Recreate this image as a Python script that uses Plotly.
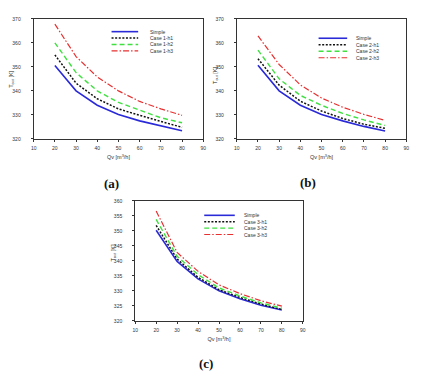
import plotly.graph_objects as go

qv = [20, 30, 40, 50, 60, 70, 80]

# Panel (a)
a_simple = [350.6, 340.0, 334.0, 330.2, 327.5, 325.3, 323.4]
a_h1 = [355.0, 343.2, 336.7, 332.5, 329.8, 327.2, 324.8]
a_h2 = [360.0, 347.6, 340.0, 335.2, 332.0, 328.8, 326.7]
a_h3 = [367.8, 354.3, 345.8, 340.0, 335.6, 332.5, 329.8]

# Panel (b)
b_simple = [350.7, 340.0, 334.0, 330.2, 327.5, 325.2, 323.3]
b_h1 = [353.4, 342.4, 335.7, 331.6, 328.5, 326.1, 324.4]
b_h2 = [357.0, 345.0, 338.1, 334.0, 330.6, 327.9, 325.6]
b_h3 = [362.9, 351.0, 342.5, 337.0, 333.2, 330.2, 327.7]

# Panel (c)
c_simple = [350.2, 339.8, 334.0, 330.0, 327.4, 325.2, 323.6]
c_h1 = [351.8, 340.6, 334.5, 330.4, 327.8, 325.6, 323.8]
c_h2 = [353.8, 341.5, 335.4, 331.0, 328.3, 326.0, 324.2]
c_h3 = [356.6, 342.8, 336.5, 332.0, 329.1, 326.7, 324.9]

names_a = ["Simple", "Case 1-h1", "Case 1-h2", "Case 1-h3"]
names_b = ["Simple", "Case 2-h1", "Case 2-h2", "Case 2-h3"]
names_c = ["Simple", "Case 3-h1", "Case 3-h2", "Case 3-h3"]
panel_labels = ["(a)", "(b)", "(c)"]
x_title = "Qv [m<sup>3</sup>/h]"
y_title = "T<sub>out</sub> [K]"

colors = ["#2a2ad8", "#111111", "#40e040", "#e83030"]
dashes = ["solid", "2px,1.6px", "5px,3px", "6px,2px,1.5px,2px"]
widths = [1.6, 1.5, 1.4, 1.2]

# page body has an 8px default margin; figure is placed at (8, 8)
OX, OY = 8, 8
W, H = 432 - OX, 377 - OY
FONT = "Liberation Sans"

panels = [
    dict(series=[a_simple, a_h1, a_h2, a_h3], names=names_a, box=(31, 203, 16, 138),
         yr=(320, 370), dy=10, leg=(110, 137, 147, 29, 6.5), lab=(110, 183), yt=(9, 77)),
    dict(series=[b_simple, b_h1, b_h2, b_h3], names=names_b, box=(237, 409, 16, 138),
         yr=(320, 370), dy=10, leg=(320, 349, 356, 35.7, 6.6), lab=(309, 182), yt=(216, 74)),
    dict(series=[c_simple, c_h1, c_h2, c_h3], names=names_c, box=(134, 304, 201, 323),
         yr=(320, 360), dy=5, leg=(204, 235, 242, 215.7, 6.5), lab=(206, 366), yt=(111, 254)),
]

fig = go.Figure()
shapes = []
annotations = []

def px_x(v):
    return (v - OX) / W

def px_y(v):
    return 1 - (v - OY) / H

for i, p in enumerate(panels):
    k = "" if i == 0 else str(i + 1)
    xa, ya = "x" + k, "y" + k
    x0, x1, y0, y1 = p["box"]
    for s, nm, c, d, w in zip(p["series"], p["names"], colors, dashes, widths):
        fig.add_trace(go.Scatter(x=qv, y=s, mode="lines", name=nm, xaxis=xa, yaxis=ya,
                                 line=dict(color=c, dash=d, width=w), showlegend=False))
    common = dict(showgrid=False, zeroline=False, showline=True, linecolor="#333",
                  linewidth=1, mirror=True, ticks="outside", ticklen=2, tickwidth=0.8,
                  tickcolor="#333", tickfont=dict(size=5, family=FONT, color="#333"))
    fig.layout["xaxis" + k] = dict(domain=[px_x(x0), px_x(x1)], range=[10, 90], dtick=10,
                                   tick0=10, anchor=ya, ticklabelstandoff=2,
                                   title=dict(text=x_title, standoff=5,
                                              font=dict(size=5.5, family=FONT, color="#333")),
                                   **common)
    fig.layout["yaxis" + k] = dict(domain=[px_y(y1), px_y(y0)], range=list(p["yr"]),
                                   dtick=p["dy"], anchor=xa, ticklabelstandoff=9,
                                   **common)
    annotations.append(dict(text=y_title, xref="paper", yref="paper",
                            x=px_x(p["yt"][0]), y=px_y(p["yt"][1]), textangle=-90,
                            xanchor="center", yanchor="middle", showarrow=False,
                            font=dict(size=5.5, family=FONT, color="#222")))
    lx0, lx1, tx, ly, step = p["leg"]
    for j, (nm, c, d, w) in enumerate(zip(p["names"], colors, dashes, widths)):
        yy = ly + j * step
        shapes.append(dict(type="line", xref="paper", yref="paper",
                           x0=px_x(lx0), x1=px_x(lx1), y0=px_y(yy), y1=px_y(yy),
                           line=dict(color=c, dash=d, width=w)))
        annotations.append(dict(text=nm, xref="paper", yref="paper", x=px_x(tx), y=px_y(yy),
                                xanchor="left", yanchor="middle", showarrow=False,
                                font=dict(size=5, family=FONT, color="#333")))
    annotations.append(dict(text="<b>" + panel_labels[i] + "</b>", xref="paper", yref="paper",
                            x=px_x(p["lab"][0]), y=px_y(p["lab"][1]), xanchor="center",
                            yanchor="middle", showarrow=False,
                            font=dict(size=13, family="Liberation Serif", color="#111")))

fig.update_layout(width=W, height=H, margin=dict(l=0, r=0, t=0, b=0),
                  paper_bgcolor="white", plot_bgcolor="white",
                  shapes=shapes, annotations=annotations, showlegend=False)

fig.write_html("out.html")
